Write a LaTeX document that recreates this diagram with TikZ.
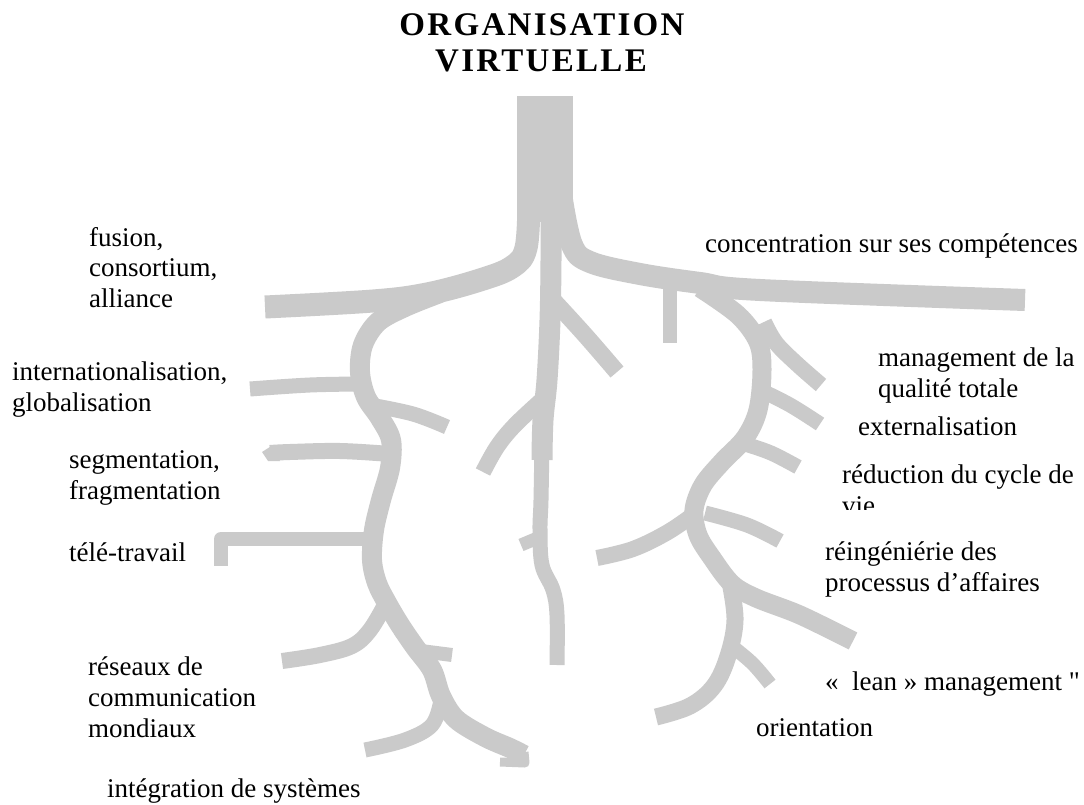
\documentclass[tikz,border=0pt]{standalone}
\usepackage{fontspec}
\setmainfont{Liberation Serif}
\newfontfamily\titlefont{Liberation Serif}[LetterSpace=7]
\newfontfamily\plainq{Liberation Serif}[Ligatures=TeXOff]
\definecolor{rootgray}{RGB}{202,202,202}
\begin{document}
\begin{tikzpicture}[x=1pt,y=-1pt,
  root/.style={draw=rootgray, line width=#1, line join=round, line cap=butt},
  root/.default=18pt,
  lbl/.style={anchor=base west, inner sep=0pt, font=\fontsize{27}{31}\selectfont},
  ttl/.style={anchor=base, inner sep=0pt, font=\titlefont\bfseries\fontsize{33}{38}\selectfont}]
\fill[white] (0,0) rectangle (1084,805);
\useasboundingbox (0,0) rectangle (1084,805);

% title
\node[ttl] (t1) at (542,36) {ORGANISATION};
\node[ttl] (t2) at (541,72) {VIRTUELLE};

% trunk
\fill[rootgray] (517,96) rectangle (573,222);

% main branches leaving the trunk
\draw[root=23pt] plot[smooth,tension=0.6] coordinates {(529,200) (526,248) (512,267) (480,280) (427,294) (373,301) (265,307)};
\draw[root=22pt] plot[smooth,tension=0.6] coordinates {(562,200) (572,245) (590,262) (640,274) (700,283) (760,290) (1025,300)};

% central root
\draw[root=21pt] plot[smooth,tension=0.6] coordinates {(551,205) (551,260) (550,320) (547,380) (543,420) (542,460)};
\draw[root=15pt] plot[smooth,tension=0.6] coordinates {(542,440) (541,500) (540,530) (542,565) (553,590) (557,615) (557,665)};
\draw[root=17pt] plot[smooth,tension=0.6] coordinates {(553,300) (585,335) (617,372)};
\draw[root=16pt] plot[smooth,tension=0.6] coordinates {(544,398) (515,425) (497,447) (483,472)};
\draw[root=13pt] (540,537) -- (521,545);

% left root
\draw[root=20pt] plot[smooth,tension=0.55] coordinates {(440,293) (405,307) (378,322) (363,345) (360,372) (366,397) (380,418) (391,440) (390,468) (381,500) (374,530) (372,560) (377,583) (387,603) (400,625) (415,647) (432,670) (441,696) (456,719) (485,737) (510,748) (524,755)};
\draw[root=9pt] (524,752) -- (525,763) -- (500,762);
\draw[root=15pt] plot[smooth,tension=0.6] coordinates {(362,384) (310,385) (250,389)};
\draw[root=15pt] plot[smooth,tension=0.6] coordinates {(370,405) (413,414) (447,427)};
\draw[root=16pt] plot[smooth,tension=0.6] coordinates {(390,454) (340,451) (290,452) (270,453)};
\fill[rootgray] (273,445) -- (262,452) -- (268,461) -- (280,461) -- cycle;
\draw[root=14pt] (373,539) -- (221,539) -- (221,566);
\draw[root=16pt] plot[smooth,tension=0.6] coordinates {(386,603) (370,630) (352,646) (320,655) (282,661)};
\draw[root=14pt] plot[smooth,tension=0.6] coordinates {(413,650) (452,655)};
\draw[root=15pt] plot[smooth,tension=0.6] coordinates {(441,700) (432,725) (405,740) (365,750)};

% right root
\draw[root=19pt] plot[smooth,tension=0.55] coordinates {(700,288) (738,315) (758,342) (762,370) (758,410) (745,438) (722,462) (703,485) (694,510) (698,535) (712,558) (732,584) (756,598) (800,615) (853,641)};
\draw[root=17pt] plot[smooth,tension=0.6] coordinates {(730,582) (735,620) (728,656) (714,686) (690,706) (656,717)};
\draw[root=14pt] (670,285) -- (670,343);
\draw[root=16pt] plot[smooth,tension=0.6] coordinates {(764,322) (776,343) (797,364) (821,385)};
\draw[root=15pt] plot[smooth,tension=0.6] coordinates {(760,390) (790,405) (820,424)};
\draw[root=15pt] plot[smooth,tension=0.6] coordinates {(745,444) (771,453) (798,467)};
\draw[root=16pt] plot[smooth,tension=0.6] coordinates {(697,512) (668,532) (633,549) (597,558)};
\draw[root=15pt] plot[smooth,tension=0.6] coordinates {(705,513) (747,525) (780,541)};
\draw[root=14pt] plot[smooth,tension=0.6] coordinates {(729,644) (752,663) (770,684)};

% labels, left
\node[lbl] (fus) at (89,246) {\begin{tabular}[t]{@{}l@{}}fusion,\\consortium,\\alliance\end{tabular}};
\node[lbl] (intl) at (12,380) {\begin{tabular}[t]{@{}l@{}}internationalisation,\\globalisation\end{tabular}};
\node[lbl] (seg) at (69,468) {\begin{tabular}[t]{@{}l@{}}segmentation,\\fragmentation\end{tabular}};
\node[lbl] (tele) at (69,561) {télé-travail};
\node[lbl] (res) at (88,675) {\begin{tabular}[t]{@{}l@{}}réseaux de\\communication\\mondiaux\end{tabular}};
\node[lbl] (integ) at (107,797) {intégration de systèmes};

% labels, right
\node[lbl] (conc) at (705,252) {concentration sur ses compétences};
\node[lbl] (mgt) at (878,366) {\begin{tabular}[t]{@{}l@{}}management de la\\qualité totale\end{tabular}};
\node[lbl] (ext) at (858,435) {externalisation};
\begin{scope}
  \clip (830,440) rectangle (1084,509);
  \node[lbl] (red) at (842,483) {\begin{tabular}[t]{@{}l@{}}réduction du cycle de\\vie\end{tabular}};
\end{scope}
\node[lbl] (reing) at (825,560) {\begin{tabular}[t]{@{}l@{}}réingéniérie des\\processus d’affaires\end{tabular}};
\node[lbl] (lean) at (825,690) {«~~lean~» management {\plainq"}};
\node[lbl] (orient) at (756,736) {orientation};
\end{tikzpicture}
\end{document}
